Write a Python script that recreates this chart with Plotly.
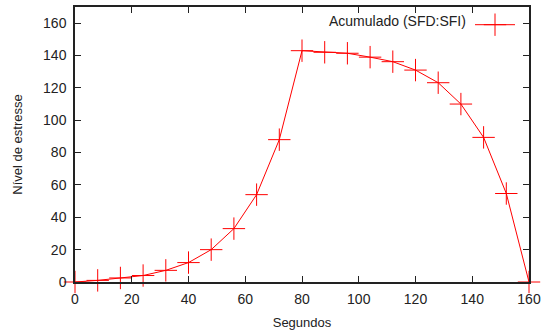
import plotly.graph_objects as go

segundos = [0, 8, 16, 24, 32, 40, 48, 56, 64, 72, 80, 88, 96, 104, 112, 120, 128, 136, 144, 152, 160]
nivel = [0, 1, 2.5, 4, 7.2, 12, 20, 33, 54, 88, 143, 142, 141.4, 139, 136.2, 131, 123.2, 110, 89.4, 54.7, 0]
serie_nome = "Acumulado (SFD:SFI)"
x_ticks = [0, 20, 40, 60, 80, 100, 120, 140, 160]
y_ticks = [0, 20, 40, 60, 80, 100, 120, 140, 160]

FONT = "Liberation Sans, Arial"

fig = go.Figure()
fig.add_trace(go.Scatter(
    x=segundos, y=nivel, mode="lines+markers", name=" ",
    line=dict(color="#ff0000", width=1),
    marker=dict(symbol="cross-thin", size=16, line=dict(color="#ff0000", width=1)),
    cliponaxis=False,
))

fig.add_annotation(text=serie_nome, xref="paper", yref="paper", x=0.865, y=0.985,
                   xanchor="right", yanchor="top", showarrow=False,
                   font=dict(family=FONT, size=14, color="#222"))

axis_common = dict(showline=True, linecolor="#222", linewidth=1.5, mirror="allticks",
                   ticks="inside", ticklen=6, tickcolor="#222", showgrid=False, zeroline=False,
                   automargin=False,
                   tickfont=dict(family=FONT, size=14, color="#222"))

fig.update_xaxes(range=[0, 160], tickvals=x_ticks, ticklabelstandoff=3,
                 title=dict(text="Segundos", font=dict(family=FONT, size=13, color="#222"), standoff=12),
                 **axis_common)
fig.update_yaxes(range=[0, 170], tickvals=y_ticks, ticklabelstandoff=4,
                 title=dict(text="Nível de estresse", font=dict(family=FONT, size=13, color="#222"), standoff=18),
                 **axis_common)

fig.update_layout(
    width=542, height=333,
    margin=dict(l=75, r=13, t=7, b=51),
    plot_bgcolor="white", paper_bgcolor="white",
    showlegend=True,
    legend=dict(x=1.0, y=0.99, xanchor="right", yanchor="top", bgcolor="rgba(0,0,0,0)",
                font=dict(family=FONT, size=13), itemwidth=40),
)

fig.write_html("out.html",
               config={"displayModeBar": False},
               post_script="document.body.style.margin='0';document.body.style.overflow='hidden';")
